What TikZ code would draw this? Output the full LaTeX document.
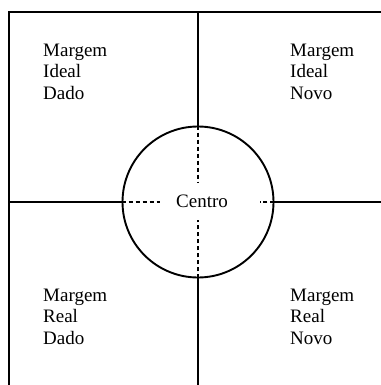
\documentclass[tikz,border=0pt]{standalone}
\usepackage{fontspec}
\setmainfont{Liberation Serif}
\begin{document}
\begin{tikzpicture}[x=1pt,y=-1pt,
    quadtext/.style={anchor=north west, inner sep=0pt, align=left,
      font=\fontsize{19}{21.7}\selectfont},
    solidline/.style={line width=2pt},
    dashline/.style={line width=1.7pt, dash pattern=on 4pt off 3pt}]
    \useasboundingbox (0,0) rectangle (380,385);
    % outer frame (cut at the right and bottom)
    \draw[solidline] (9,395) -- (9,12.5) -- (390,12.5);
    % the circle in the middle
    \node[circle, draw, line width=1.9pt, minimum size=151pt, inner sep=0pt] (centro) at (198,202) {};
    \node[font=\fontsize{19}{21.7}\selectfont] (centrotxt) at (202,201) {Centro};
    % axes, solid outside and dashed inside the circle
    \draw[solidline] (centro.north) -- (198,12.5);
    \draw[solidline] (centro.south) -- (198,395);
    \draw[solidline] (centro.west) -- (9,202);
    \draw[solidline] (centro.east) -- (390,202);
    \draw[dashline] (centro.north) -- (198,182);
    \draw[dashline] (centro.south) -- (198,220);
    \draw[dashline] (centro.west) -- (160,202);
    \draw[dashline] (centro.east) -- (260,202);
    % the four quadrants
    \node[quadtext] (idealdado) at (43,43.5) {Margem\\Ideal\\Dado};
    \node[quadtext] (idealnovo) at (290,43.5) {Margem\\Ideal\\Novo};
    \node[quadtext] (realdado) at (43,288.5) {Margem\\Real\\Dado};
    \node[quadtext] (realnovo) at (290,288.5) {Margem\\Real\\Novo};
\end{tikzpicture}
\end{document}
